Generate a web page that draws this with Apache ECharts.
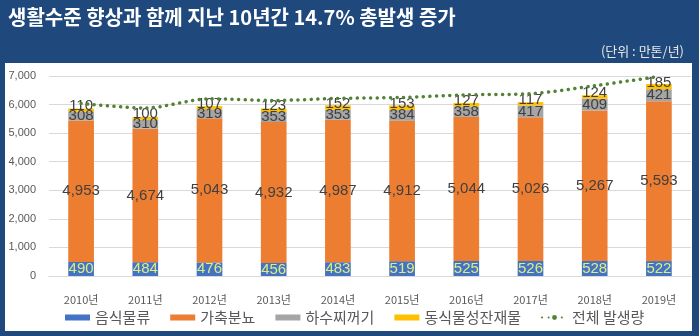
<!DOCTYPE html>
<html>
<head>
<meta charset="utf-8">
<script src="https://cdn.jsdelivr.net/npm/echarts@6/dist/echarts.min.js"></script>
<style>html,body{margin:0;padding:0;background:#1F497D;}#c{width:699px;height:336px;}</style>
</head>
<body>
<div id="c"></div>
<script>
var years = ['2010년','2011년','2012년','2013년','2014년','2015년','2016년','2017년','2018년','2019년'];
var food = [490, 484, 476, 456, 483, 519, 525, 526, 528, 522];
var manure = [4953, 4674, 5043, 4932, 4987, 4912, 5044, 5026, 5267, 5593];
var sludge = [308, 310, 319, 353, 353, 384, 358, 417, 409, 421];
var residue = [110, 100, 107, 123, 152, 153, 127, 117, 124, 185];
var totalLine = [6040, 5880, 6200, 6145, 6215, 6250, 6340, 6380, 6660, 6985];
var yTicks = [0, 1000, 2000, 3000, 4000, 5000, 6000, 7000];

var chart = echarts.init(document.getElementById('c'));
var numFmt = function (v) { return Number(v).toLocaleString('en-US'); };
var labelFont = 'Liberation Sans';
chart.setOption({
  backgroundColor: '#1F497D',
  animation: false,
  title: {
    text: '생활수준 향상과 함께 지난 10년간 14.7% 총발생 증가',
    left: 3, top: 2,
    textStyle: { color: '#ffffff', fontSize: 20, fontWeight: 'bold', fontFamily: 'Noto Sans CJK KR' }
  },
  graphic: [
    { type: 'rect', shape: { x: 5, y: 63, width: 687, height: 268 }, style: { fill: '#ffffff' }, z: -10 },
    { type: 'text', right: 15, top: 45, style: { text: '(단위 : 만톤/년)', fill: '#E6E6E6', fontSize: 13, fontFamily: 'Noto Sans CJK KR' } }
  ],
  grid: { left: 49, right: 8, top: 76, bottom: 60 },
  legend: {
    left: 60, top: 305,
    itemWidth: 25, itemHeight: 6, itemGap: 20,
    textStyle: { color: '#595959', fontSize: 15, fontFamily: 'Noto Sans CJK KR' },
    data: [
      { name: '음식물류', icon: 'rect' },
      { name: '가축분뇨', icon: 'rect' },
      { name: '하수찌꺼기', icon: 'rect' },
      { name: '동식물성잔재물', icon: 'rect' },
      { name: '전체 발생량' }
    ]
  },
  xAxis: {
    type: 'category', data: years,
    axisLine: { lineStyle: { color: '#D9D9D9' } },
    axisTick: { show: false },
    axisLabel: { color: '#595959', fontSize: 11, margin: 18, fontFamily: 'Noto Sans CJK KR' }
  },
  yAxis: {
    type: 'value', min: yTicks[0], max: yTicks[yTicks.length - 1], interval: 1000,
    axisLine: { show: false }, axisTick: { show: false },
    splitLine: { lineStyle: { color: '#D9D9D9' } },
    axisLabel: { color: '#595959', fontSize: 11, margin: 13, fontFamily: labelFont, formatter: numFmt }
  },
  series: [
    { name: '음식물류', type: 'bar', stack: 's', barWidth: '40%', data: food,
      itemStyle: { color: '#4472C4' },
      label: { show: true, position: 'inside', color: '#DDED7A', fontSize: 15, fontFamily: labelFont, formatter: function (p) { return numFmt(p.value); } } },
    { name: '가축분뇨', type: 'bar', stack: 's', data: manure,
      itemStyle: { color: '#ED7D31' },
      label: { show: true, position: 'inside', color: '#404040', fontSize: 15, fontFamily: labelFont, formatter: function (p) { return numFmt(p.value); } } },
    { name: '하수찌꺼기', type: 'bar', stack: 's', data: sludge,
      itemStyle: { color: '#A5A5A5' },
      label: { show: true, position: 'inside', color: '#404040', fontSize: 15, fontFamily: labelFont, formatter: function (p) { return numFmt(p.value); } } },
    { name: '동식물성잔재물', type: 'bar', stack: 's', data: residue,
      itemStyle: { color: '#FFC000' },
      label: { show: true, position: 'inside', offset: [0, -4], color: '#404040', fontSize: 15, fontFamily: labelFont, formatter: function (p) { return numFmt(p.value); } } },
    { name: '전체 발생량', type: 'line', data: totalLine, smooth: 0.3,
      symbol: 'none', showSymbol: false, z: 5,
      itemStyle: { color: '#548235' },
      lineStyle: { color: '#548235', width: 3.5, type: [0.1, 6.5], cap: 'round' } }
  ]
});
</script>
</body>
</html>
